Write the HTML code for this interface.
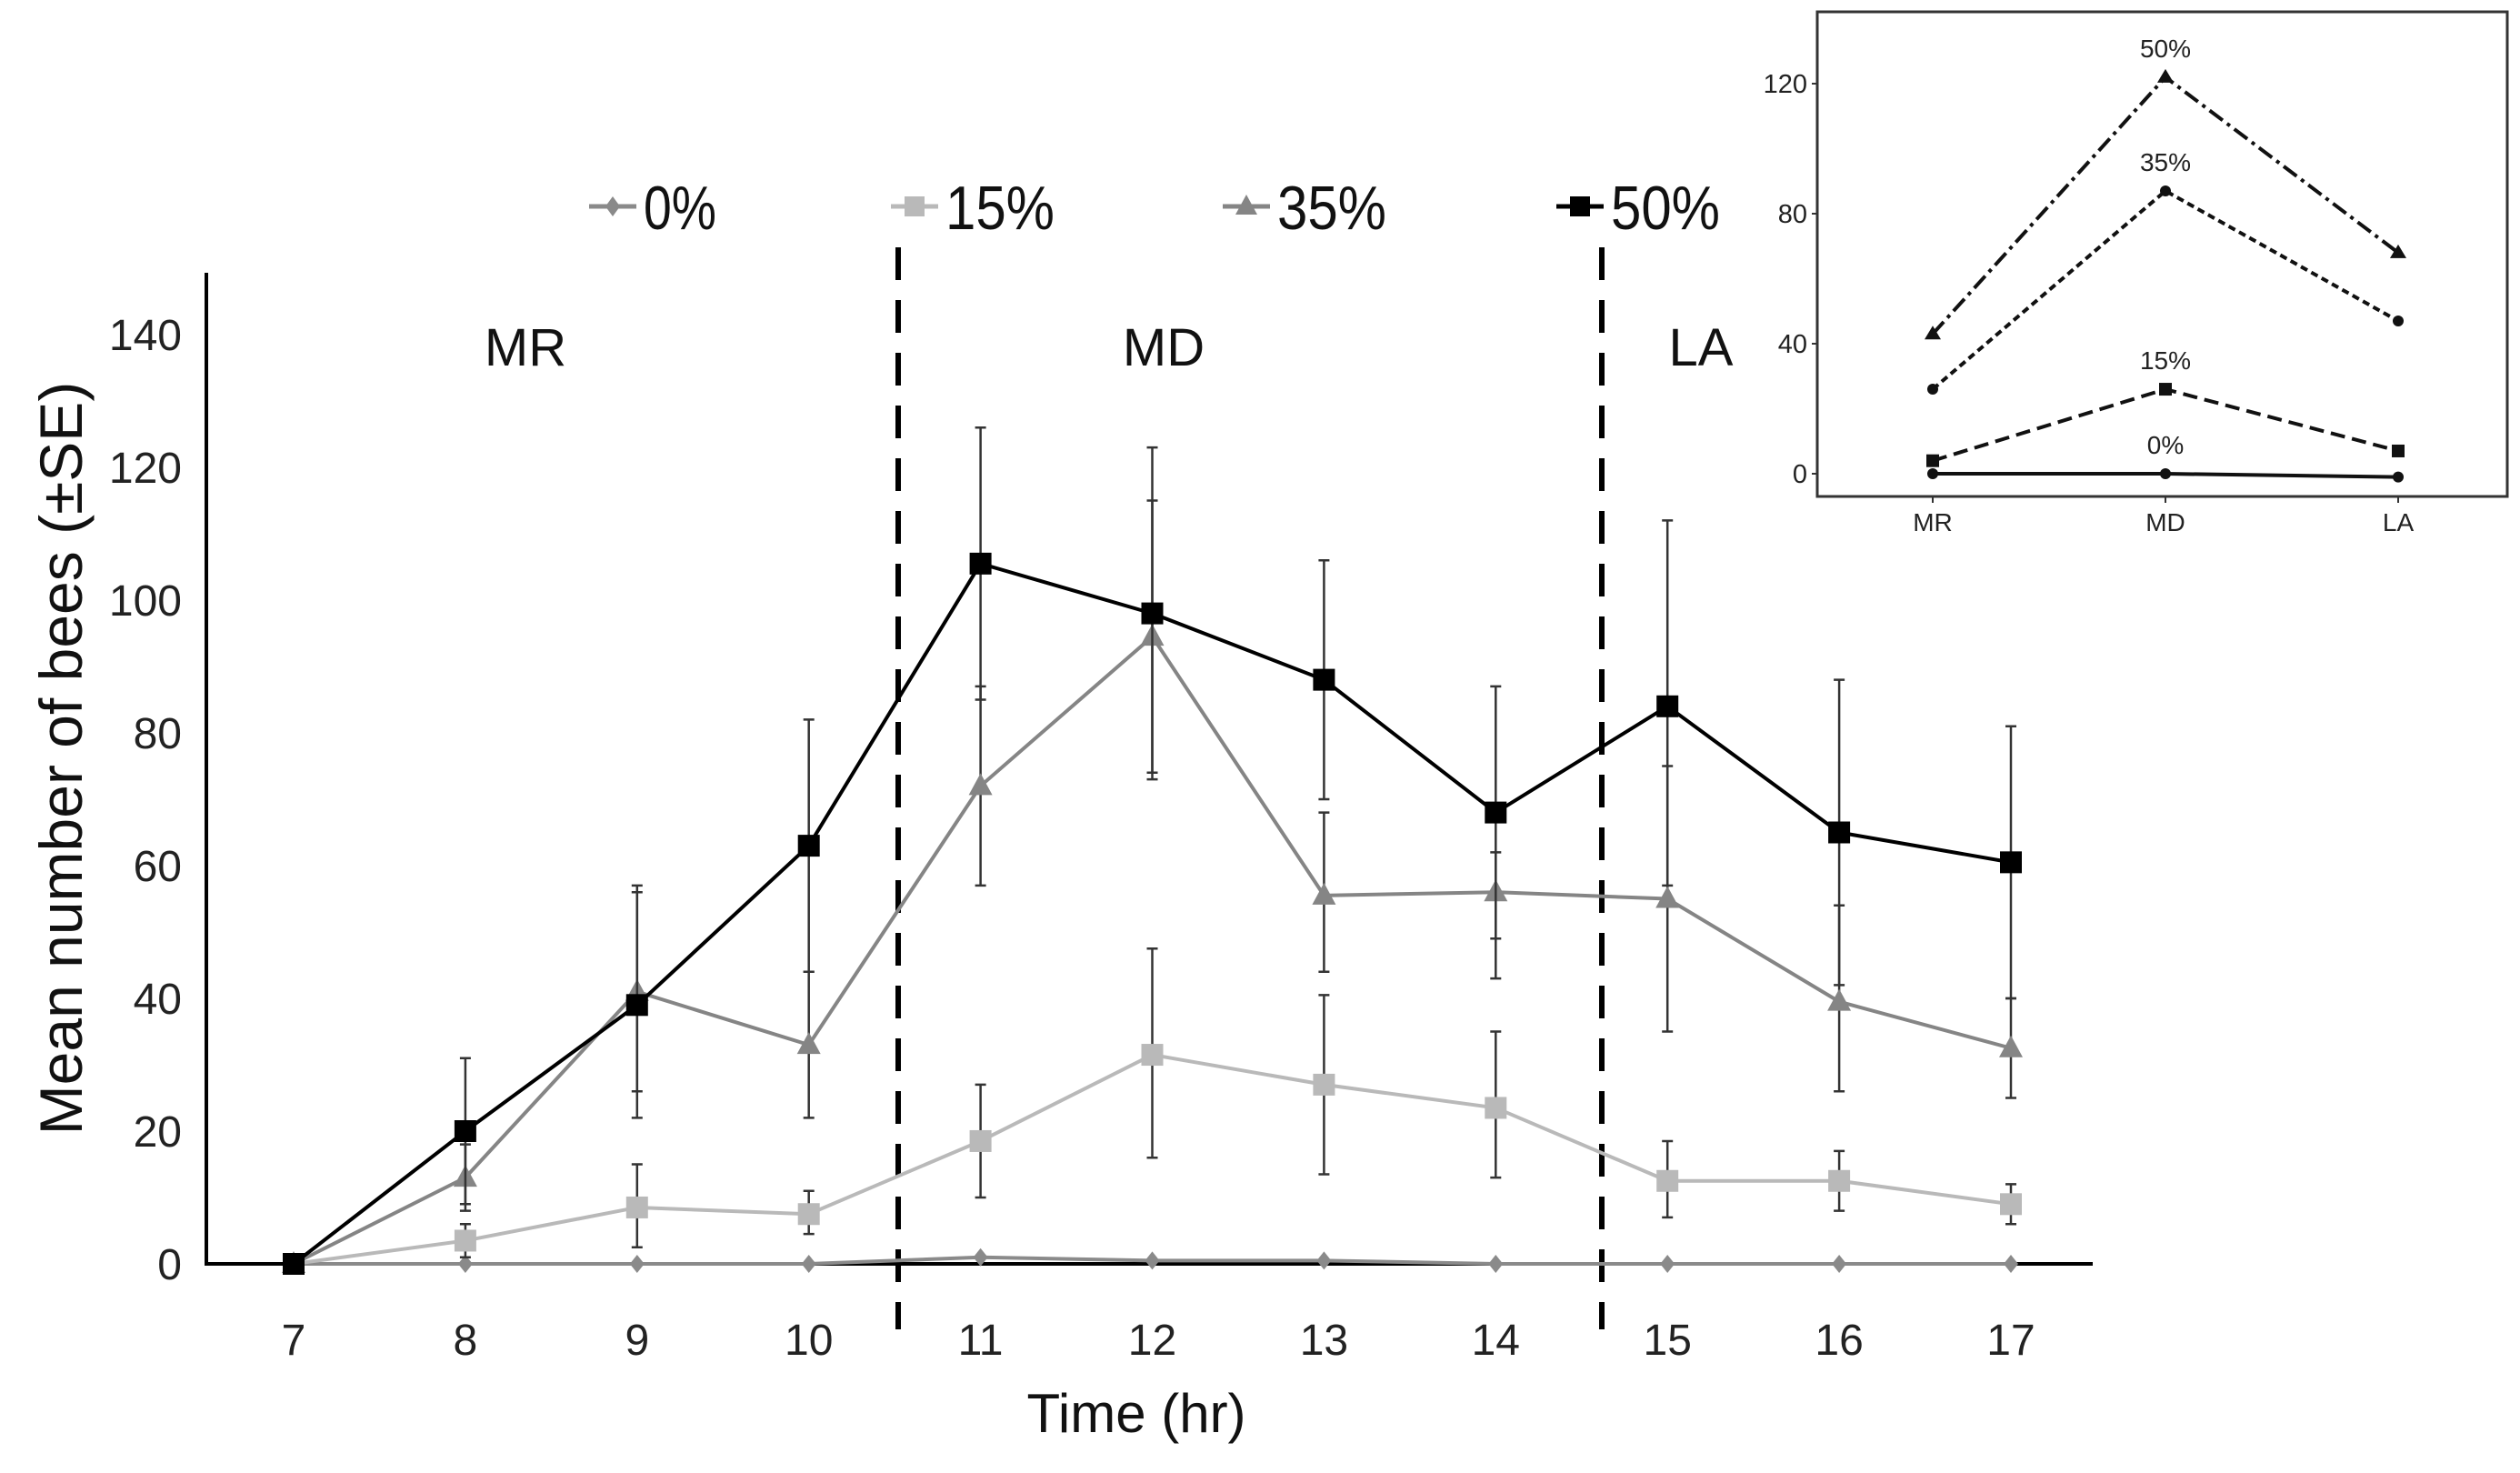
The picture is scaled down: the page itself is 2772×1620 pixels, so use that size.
<!DOCTYPE html>
<html><head><meta charset="utf-8"><style>
html,body{margin:0;padding:0;background:#fff;}
svg{display:block;font-family:"Liberation Sans",sans-serif;}
</style></head><body>
<svg id="chart" width="2772" height="1620" viewBox="0 0 2772 1620" xmlns="http://www.w3.org/2000/svg">
<g id="main"></g>
<g id="inset"></g>
</svg>
<script>
const hours=[7,8,9,10,11,12,13,14,15,16,17];
const yTicks=[0,20,40,60,80,100,120,140];
const v50=[0,20,39,63,105.5,98,88,68,84,65,60.5];
const hi50=[0,31,56,82,126,123,106,87,112,88,81];
const lo50=[0,9,22,44,85,73,70,49,57,42,40];
const v35=[0,13,41,33,72,94.5,55.5,56,55,39.5,32.5];
const hi35=[0,18,57,44,87,115,68,62,75,54,40];
const lo35=[0,8,26,22,57,74,44,43,35,26,25];
const v15=[0,3.5,8.5,7.5,18.5,31.5,27,23.5,12.5,12.5,9];
const hi15=[0,6,15,11,27,47.5,40.5,35,18.5,17,12];
const lo15=[0,1,2.5,4.5,10,16,13.5,13,7,8,6];
const v0=[0,0,0,0,1,0.5,0.5,0,0,0,0];
const periods=["MR","MD","LA"];
const in50=[43,122,68];
const in35=[26,87,47];
const in15=[4,26,7];
const in0=[0,0,-1];
const inTicks=[0,40,80,120];

const NS="http://www.w3.org/2000/svg";
function mk(parent,tag,attrs,text){const e=document.createElementNS(NS,tag);for(const k in attrs)e.setAttribute(k,attrs[k]);if(text!==undefined)e.textContent=text;parent.appendChild(e);return e;}
const main=document.getElementById('main');
const X=h=>323+(h-7)*188.9;
const Y=v=>1390-v*7.3;

let e;
e=mk(main,'line',{x1:227,y1:300,x2:227,y2:1390,stroke:'#000','stroke-width':4});


e=mk(main,'line',{x1:225,y1:1390,x2:2302,y2:1390,stroke:'#000','stroke-width':4});


yTicks.forEach(t=>{
  e=mk(main,'text',{x:200,y:Y(t)+17,'text-anchor':'end','font-size':48,fill:'#222'},String(t));
  
  
});
hours.forEach(h=>{
  e=mk(main,'text',{x:X(h),y:1490,'text-anchor':'middle','font-size':48,fill:'#222'},String(h));
  
  
});
e=mk(main,'text',{x:0,y:0,transform:'translate(90,834) rotate(-90)','text-anchor':'middle','font-size':66,fill:'#111'},'Mean number of bees (±SE)');


e=mk(main,'text',{x:1250,y:1575,'text-anchor':'middle','font-size':60,fill:'#111'},'Time (hr)');


[988,1762].forEach(x=>{
  e=mk(main,'line',{x1:x,y1:272,x2:x,y2:1462,stroke:'#000','stroke-width':6,'stroke-dasharray':'36 22'});
  
  
});
[[578,'MR'],[1280,'MD'],[1871,'LA']].forEach(p=>{
  e=mk(main,'text',{x:p[0],y:402,'text-anchor':'middle','font-size':58,fill:'#111'},p[1]);
  
  
});
function series(vals,hi,lo,color,marker,name,w){
  const g=mk(main,'g',{});
  
  
  if(hi){hours.forEach((h,i)=>{
    if(hi[i]===lo[i])return;
    const x=X(h);
    e=mk(g,'path',{d:`M${x},${Y(hi[i])}V${Y(lo[i])}M${x-6},${Y(hi[i])}h12M${x-6},${Y(lo[i])}h12`,stroke:'#333','stroke-width':2.5,fill:'none'});
    
    
  });}
  e=mk(g,'polyline',{points:hours.map((h,i)=>X(h)+','+Y(vals[i])).join(' '),fill:'none',stroke:color,'stroke-width':w});
  
  
  hours.forEach((h,i)=>{
    const x=X(h),y=Y(vals[i]);
    if(marker==='sq')e=mk(g,'rect',{x:x-12,y:y-12,width:24,height:24,fill:color});
    else if(marker==='tri')e=mk(g,'path',{d:`M${x},${y-14}L${x+13},${y+10}L${x-13},${y+10}Z`,fill:color});
    else e=mk(g,'path',{d:`M${x},${y-10}L${x+8},${y}L${x},${y+10}L${x-8},${y}Z`,fill:color});
    
    
  });
}
series(v0,null,null,'#8a8a8a','dia','0pct',4);
series(v15,hi15,lo15,'#b9b9b9','sq','15pct',4);
series(v35,hi35,lo35,'#858585','tri','35pct',4);
series(v50,hi50,lo50,'#000','sq','50pct',4);
[[674,'0%','#8a8a8a','dia'],[1006,'15%','#b9b9b9','sq'],[1371,'35%','#858585','tri'],[1738,'50%','#000','sq']].forEach(l=>{
  const g=mk(main,'g',{});
  
  
  const x=l[0],y=227;
  mk(g,'line',{x1:x-26,y1:y,x2:x+26,y2:y,stroke:l[2],'stroke-width':5});
  if(l[3]==='sq')mk(g,'rect',{x:x-11,y:y-11,width:22,height:22,fill:l[2]});
  else if(l[3]==='tri')mk(g,'path',{d:`M${x},${y-13}L${x+12},${y+9}L${x-12},${y+9}Z`,fill:l[2]});
  else mk(g,'path',{d:`M${x},${y-11}L${x+8},${y}L${x},${y+11}L${x-8},${y}Z`,fill:l[2]});
  mk(g,'text',{x:x+34,y:y+25,'font-size':68,fill:'#111',textLength:l[1].length*40,lengthAdjust:'spacingAndGlyphs'},l[1]);
});

const ins=document.getElementById('inset');
const IX=i=>2126+i*256;
const IY=v=>521-v*3.575;
e=mk(ins,'rect',{x:1999,y:13,width:759,height:533,fill:'#fff',stroke:'#333','stroke-width':3});


inTicks.forEach(t=>{
  mk(ins,'line',{x1:1993,y1:IY(t),x2:1999,y2:IY(t),stroke:'#333','stroke-width':2});
  e=mk(ins,'text',{x:1988,y:IY(t)+10,'text-anchor':'end','font-size':29,fill:'#222'},String(t));
  
  
});
periods.forEach((p,i)=>{
  mk(ins,'line',{x1:IX(i),y1:546,x2:IX(i),y2:553,stroke:'#333','stroke-width':2});
  e=mk(ins,'text',{x:IX(i),y:584,'text-anchor':'middle','font-size':28,fill:'#222'},p);
  
  
});
function iser(vals,dash,marker,label,name){
  const g=mk(ins,'g',{});
  
  
  mk(g,'polyline',{points:vals.map((v,i)=>IX(i)+','+IY(v)).join(' '),fill:'none',stroke:'#111','stroke-width':4,'stroke-dasharray':dash});
  vals.forEach((v,i)=>{
    const x=IX(i),y=IY(v);
    if(marker==='sq')mk(g,'rect',{x:x-7,y:y-7,width:14,height:14,fill:'#111'});
    else if(marker==='tri')mk(g,'path',{d:`M${x},${y-9}L${x+9},${y+6}L${x-9},${y+6}Z`,fill:'#111'});
    else mk(g,'circle',{cx:x,cy:y,r:6,fill:'#111'});
  });
  mk(g,'text',{x:IX(1),y:IY(vals[1])-22,'text-anchor':'middle','font-size':28,fill:'#222'},label);
}
iser(in0,'none','dot','0%','0pct');
iser(in15,'16 8','sq','15%','15pct');
iser(in35,'8 5','dot','35%','35pct');
iser(in50,'18 6 4 6','tri','50%','50pct');
</script>
</body></html>
